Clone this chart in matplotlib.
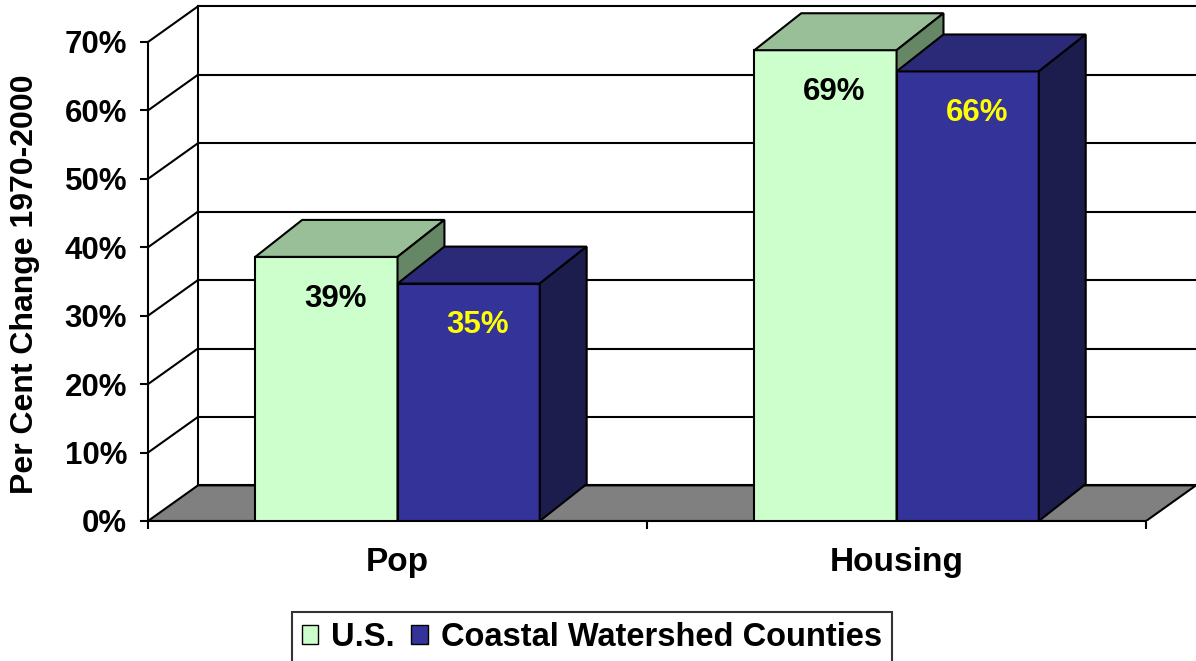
import matplotlib.pyplot as plt
from matplotlib.patches import Polygon, Patch

plt.rcParams['font.family'] = ['Liberation Sans', 'DejaVu Sans']
plt.rcParams['font.weight'] = 'bold'

# Per cent change 1970-2000
categories = ['Pop', 'Housing']
us_change = [38.6, 68.8]
coastal_change = [34.7, 65.7]
series_names = ['U.S.', 'Coastal Watershed Counties']
y_ticks = [0, 10, 20, 30, 40, 50, 60, 70]

# face colours: front, top, side
us_faces = ['#CCFFCC', '#99BF99', '#668766']
coastal_faces = ['#333399', '#2A2A78', '#1C1C4D']
label_colors = ['black', '#FFFF00']

# perspective offsets in data units
wall_dx, wall_dy = 0.1, 5.2
bar_dx, bar_dy = 0.094, 5.4
bar_w = 0.285

fig = plt.figure(figsize=(11.96, 6.61), dpi=100)
ax = fig.add_axes([148 / 1196, 140 / 661, 1048 / 1196, 521 / 661])
ax.set_xlim(0, 2.1)
ax.set_ylim(0, 521 / 6.843)

# back wall gridlines, side wall diagonals
ymax = y_ticks[-1]
for t in y_ticks:
    ax.plot([wall_dx, len(categories) + wall_dx], [t + wall_dy] * 2,
            color='black', lw=1.5, zorder=0.5, clip_on=False)
    if t > 0:
        ax.plot([0, wall_dx], [t, t + wall_dy], color='black', lw=1.5,
                zorder=0.5, clip_on=False)
ax.plot([wall_dx, wall_dx], [wall_dy, ymax + wall_dy], color='black', lw=1.5,
        zorder=0.5)

# floor
n = len(categories)
ax.add_patch(Polygon([(0, 0), (n, 0), (n + wall_dx, wall_dy), (wall_dx, wall_dy)],
                     closed=True, facecolor='#808080', edgecolor='black',
                     lw=1.5, zorder=1))


def draw_bar(x0, h, faces, z):
    front = [(x0, 0), (x0 + bar_w, 0), (x0 + bar_w, h), (x0, h)]
    top = [(x0, h), (x0 + bar_w, h), (x0 + bar_w + bar_dx, h + bar_dy),
           (x0 + bar_dx, h + bar_dy)]
    side = [(x0 + bar_w, 0), (x0 + bar_w + bar_dx, bar_dy),
            (x0 + bar_w + bar_dx, h + bar_dy), (x0 + bar_w, h)]
    for pts, fc in zip([front, top, side], faces):
        ax.add_patch(Polygon(pts, closed=True, facecolor=fc, edgecolor='black',
                             lw=1.5, joinstyle='miter', zorder=z))


z = 3
for i in range(n):
    for j, (vals, faces) in enumerate([(us_change, us_faces),
                                       (coastal_change, coastal_faces)]):
        x0 = i + 0.5 - bar_w + j * bar_w
        draw_bar(x0, vals[i], faces, z)
        ax.text(x0 + bar_w / 2 + 0.018, vals[i] - 6.1, f'{vals[i]:.0f}%',
                ha='center', va='center', fontsize=22.5, fontweight='bold',
                color=label_colors[j], zorder=z + 1)
        z += 2

# axes
for side in ['top', 'right']:
    ax.spines[side].set_visible(False)
ax.spines['left'].set_bounds(0, ymax)
ax.spines['bottom'].set_bounds(0, n)
for side in ['left', 'bottom']:
    ax.spines[side].set_linewidth(1.5)
    ax.spines[side].set_zorder(2)
ax.set_yticks(y_ticks)
ax.set_yticklabels([f'{t}%' for t in y_ticks])
ax.set_xticks(range(n + 1))
ax.set_xticklabels([''] * (n + 1))
ax.set_xticks([i + 0.5 for i in range(n)], minor=True)
ax.set_xticklabels(categories, minor=True)
ax.tick_params(axis='y', length=6, width=1.5, pad=9, labelsize=22.5)
ax.tick_params(axis='x', which='major', length=6, width=1.5)
ax.tick_params(axis='x', which='minor', length=0, pad=19, labelsize=24)

fig.text(25 / 1196, 1 - 284 / 661, 'Per Cent Change 1970-2000', rotation=90,
         ha='center', va='center', fontsize=23, fontweight='bold')

handles = [Patch(facecolor=us_faces[0], edgecolor='black', lw=1),
           Patch(facecolor=coastal_faces[0], edgecolor='black', lw=1)]
leg = fig.legend(handles, series_names, loc='upper center',
                 bbox_to_anchor=(592 / 1196, 1 - 612 / 661), ncol=2,
                 fontsize=23.5, frameon=True, fancybox=False, borderpad=0.3,
                 handlelength=0.5, handleheight=0.5, handletextpad=0.4,
                 columnspacing=0.5, borderaxespad=0)
leg.get_frame().set_edgecolor('black')
leg.get_frame().set_linewidth(1.5)

fig.savefig('out.png', dpi=100)
